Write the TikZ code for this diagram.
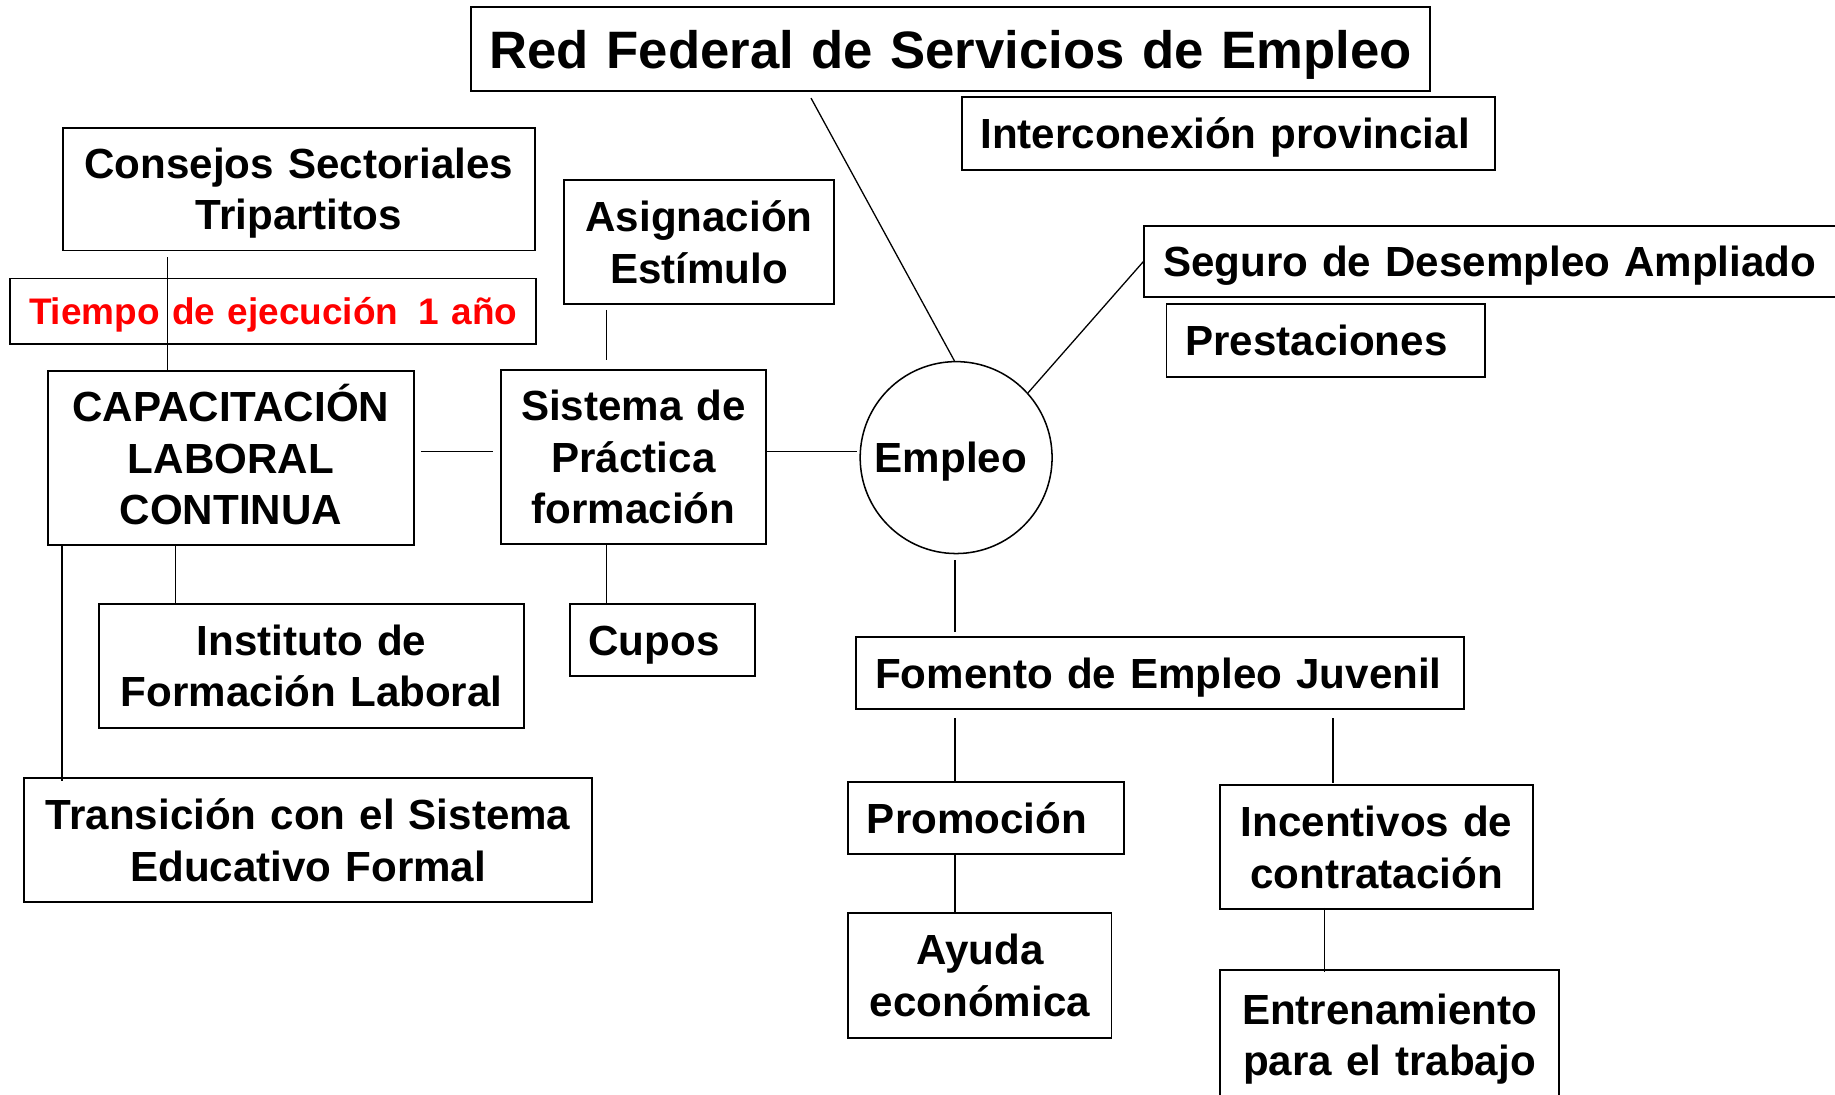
\documentclass[tikz,border=0pt]{standalone}
\usepackage{fontspec}
\setmainfont{Liberation Sans}
\usetikzlibrary{calc}
\tikzset{
  bx/.style={draw, line width=1.6pt, inner ysep=0pt, anchor=west, font=\bfseries\fontsize{36}{44}\selectfont},
  lbx/.style={bx, inner xsep=16pt, align=left, text height=30pt, text depth=4pt},
  cbx/.style={bx, inner xsep=4pt, align=center},
  ltwo/.style={text height=30pt, text depth=48pt},
  lthree/.style={text height=30pt, text depth=92pt},
  con/.style={line width=1.1pt},
}
\begin{document}
\begin{tikzpicture}[x=1pt,y=-1pt]
\useasboundingbox (0,0) rectangle (1568,935);
\fill[white] (0,0) rectangle (1568,935);

\node[cbx, inner xsep=10pt, text width=799pt, minimum height=72pt, text height=36pt, text depth=3pt, font=\bfseries\fontsize{45}{54}\selectfont] (title) at (402,42) {\mbox{Red Federal de Servicios de Empleo}};
\node[lbx, text width=424pt, minimum height=62pt] (inter) at (821,114) {\mbox{Interconexión provincial}};
\node[cbx, ltwo, text width=395pt, minimum height=105pt] (consejos) at (53,161.5) {Consejos Sectoriales\\Tripartitos};
\node[lbx, text width=417pt, minimum height=56pt, text=red, text height=26pt, text depth=3pt, font=\bfseries\fontsize{31.6}{38}\selectfont] (tiempo) at (8,266) {\mbox{Tiempo de ejecución\hspace{17.6pt}1 año}};
\node[cbx, ltwo, text width=223pt, minimum height=106pt] (asig) at (481,207) {Asignación\\Estímulo};
\node[cbx, lthree, text width=305pt, minimum height=149pt] (cap) at (40,391.5) {CAPACITACIÓN\\LABORAL\\CONTINUA};
\node[cbx, lthree, text width=219pt, minimum height=149pt] (sist) at (427,390.5) {Sistema de\\Práctica\\formación};
\node[draw, circle, line width=1.3pt, minimum size=164pt, inner sep=0pt, text height=30pt, text depth=4pt, font=\bfseries\fontsize{36}{44}\selectfont] (empleo) at (817,391) {\kern-9pt Empleo};
\node[lbx, text width=566pt, minimum height=61pt] (seguro) at (977,223.5) {\mbox{Seguro de Desempleo Ampliado}};
\node[lbx, text width=240pt, minimum height=62pt] (prest) at (996,291) {\mbox{Prestaciones}};
\node[lbx, text width=126pt, minimum height=62pt] (cupos) at (486,547) {\mbox{Cupos}};
\node[cbx, ltwo, text width=355pt, minimum height=106pt] (inst) at (84,569) {Instituto de\\Formación Laboral};
\node[cbx, ltwo, text width=477pt, minimum height=106pt] (trans) at (20,718) {Transición con el Sistema\\Educativo Formal};
\node[lbx, text width=487pt, minimum height=62pt] (fomento) at (731,575) {\mbox{Fomento de Empleo Juvenil}};
\node[lbx, text width=204pt, minimum height=62pt] (promo) at (724,699) {\mbox{Promoción}};
\node[cbx, ltwo, text width=259pt, minimum height=106pt] (incent) at (1042,724) {Incentivos de\\contratación};
\node[cbx, ltwo, text width=217pt, minimum height=107pt] (ayuda) at (724,833.5) {Ayuda\\económica};
\node[cbx, ltwo, text width=281pt, minimum height=110pt] (entren) at (1042,884) {Entrenamiento\\para el trabajo};

% connectors
\draw[con] ($(title.south west)+(291,5)$) -- (empleo.91);
\draw[con] (seguro.west) -- (empleo.42);
\draw[con] ($(consejos.south west)+(90,5)$) -- ($(cap.north west)+(103,0)$);
\draw[con] ($(cap.east)+(5,-5.5)$) -- ($(sist.west)+(-6,-4.5)$);
\draw[con] ($(sist.east)+(0,-4.5)$) -- ($(empleo.west)+(-2,-5)$);
\draw[con] ($(asig.south west)+(37,4)$) -- ($(sist.north west)+(91,-8)$);
\draw[con] ($(sist.south west)+(91,0)$) -- ($(cupos.north west)+(32,0)$);
\draw[con] ($(cap.south west)+(110,0)$) -- ($(inst.north west)+(66,0)$);
\draw[con] ($(cap.south west)+(13,-1)$) -- ($(trans.north west)+(33,3)$);
\draw[con] ($(empleo.south)+(-1,5)$) -- ($(fomento.north west)+(85,-3)$);
\draw[con] ($(fomento.south west)+(85,7)$) -- ($(promo.north west)+(92,0)$);
\draw[con] ($(fomento.south west)+(408,7)$) -- ($(incent.north west)+(97,-1)$);
\draw[con] ($(promo.south west)+(92,0)$) -- ($(ayuda.north west)+(92,0)$);
\draw[con] ($(incent.south west)+(90,-2)$) -- ($(entren.north west)+(90,2)$);
\end{tikzpicture}
\end{document}
